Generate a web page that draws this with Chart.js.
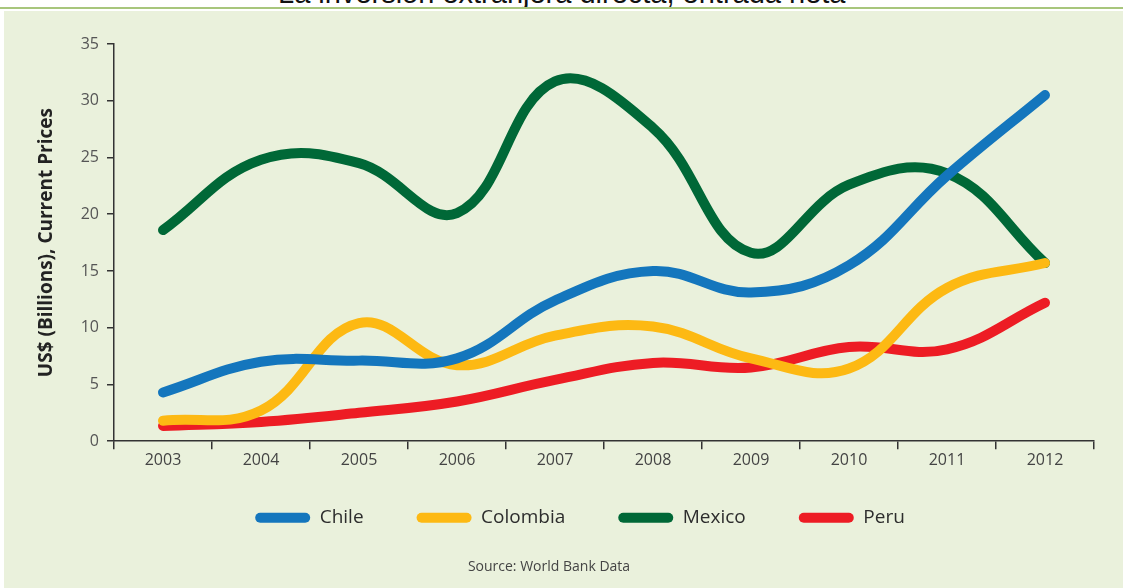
<!DOCTYPE html>
<html>
<head>
<meta charset="utf-8">
<script src="https://cdn.jsdelivr.net/npm/chart.js@4/dist/chart.umd.min.js"></script>
<style>
  body { margin: 0; background: #fff; width: 1123px; height: 588px; overflow: hidden; position: relative; }
  #title {
    position: absolute; left: 278px; top: -21px; white-space: nowrap;
    font: 29px/29px "Liberation Sans", Arial, sans-serif; color: #111;
  }
  #rule { position: absolute; left: 0; top: 7px; width: 1123px; height: 2px; background: #a8c67c; }
  #panel { position: absolute; left: 4px; top: 11px; width: 1119px; height: 577px; background: #eaf1dc; }
</style>
</head>
<body>
<div id="title">La inversión extranjera directa, entrada neta</div>
<div id="rule"></div>
<div id="panel"><canvas id="fdiChart" width="1119" height="577"></canvas></div>
<script>
const years = ['2003', '2004', '2005', '2006', '2007', '2008', '2009', '2010', '2011', '2012'];
const chile    = [4.3, 7.0, 7.1, 7.3, 12.4, 15.0, 13.1, 15.5, 23.4, 30.5];
const colombia = [1.8, 2.7, 10.4, 6.7, 9.3, 10.1, 7.3, 6.4, 13.5, 15.7];
const mexico   = [18.6, 24.8, 24.5, 20.1, 31.7, 27.6, 16.6, 22.6, 23.6, 15.7];
const peru     = [1.35, 1.7, 2.5, 3.5, 5.4, 6.9, 6.5, 8.3, 8.1, 12.2];

const series = [
    { label: 'Chile', data: chile, color: '#1476bd' },
    { label: 'Colombia', data: colombia, color: '#fdb913' },
    { label: 'Mexico', data: mexico, color: '#006837' },
    { label: 'Peru', data: peru, color: '#ed1c24' }
];

// move the legend row a little right and up from where the layout puts it
const legendShift = {
    id: 'legendShift',
    afterLayout(chart) {
        const lg = chart.legend;
        lg.left += 31;
        lg.right += 31;
        lg.top -= 12;
        lg.bottom -= 12;
    }
};

const ctx = document.getElementById('fdiChart').getContext('2d');
new Chart(ctx, {
    type: 'line',
    data: {
        labels: years,
        datasets: series.map(s => ({
            label: s.label,
            data: s.data,
            borderColor: s.color,
            backgroundColor: s.color,
            borderWidth: 10,
            borderCapStyle: 'round',
            borderJoinStyle: 'round',
            tension: 0.4,
            pointRadius: 0,
            fill: false
        }))
    },
    options: {
        responsive: false,
        animation: false,
        layout: { padding: { top: 33, right: 29, left: 0, bottom: 0 } },
        plugins: {
            tooltip: { enabled: false },
            legend: {
                position: 'bottom',
                labels: {
                    boxWidth: 55,
                    boxHeight: 10,
                    useBorderRadius: true,
                    borderRadius: 5,
                    padding: 53,
                    color: '#2d2d2d',
                    font: { family: 'Open Sans', size: 19 },
                    generateLabels: chart => Chart.defaults.plugins.legend.labels.generateLabels(chart)
                        .map(item => ({ ...item, lineWidth: 0 }))
                }
            },
            subtitle: {
                display: true,
                position: 'bottom',
                text: 'Source: World Bank Data',
                color: '#444',
                font: { family: 'Open Sans', size: 14, weight: 'normal' },
                padding: { top: 9, bottom: 13 }
            }
        },
        scales: {
            x: {
                offset: true,
                grid: { offset: true, drawOnChartArea: false, tickLength: 8, color: '#333', lineWidth: 1.5 },
                border: { color: '#333', width: 1.5 },
                ticks: { color: '#444', padding: 2, font: { family: 'Open Sans', size: 16 } },
                afterFit: scale => { scale.height = 26; }
            },
            y: {
                min: 0,
                max: 35,
                ticks: { stepSize: 5, color: '#555', padding: 8, font: { family: 'Open Sans', size: 16 } },
                grid: { drawOnChartArea: false, tickLength: 7, color: '#333', lineWidth: 1.5 },
                border: { color: '#333', width: 1.5 },
                title: {
                    display: true,
                    text: 'US$ (Billions), Current Prices',
                    color: '#222',
                    font: { family: 'Open Sans', size: 19, weight: 'bold' },
                    padding: { top: 31, bottom: 0 }
                },
                afterFit: scale => { scale.width = 110; }
            }
        }
    },
    plugins: [legendShift]
});
</script>
</body>
</html>
